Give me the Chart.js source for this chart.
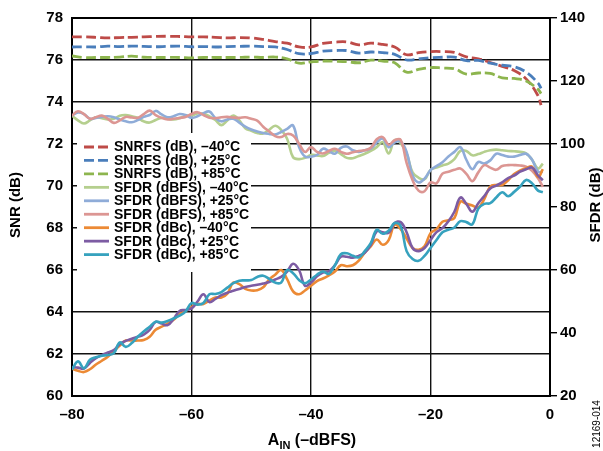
<!DOCTYPE html>
<html><head><meta charset="utf-8">
<script src="https://cdn.jsdelivr.net/npm/chart.js@4/dist/chart.umd.min.js"></script>
<style>html,body{margin:0;padding:0;background:#fff}#wrap{width:603px;height:451px}</style>
</head><body><div id="wrap"><canvas id="c" width="603" height="451"></canvas></div>
<script>
// ---- DATA ----
const X_SFDR = [-80,-79,-78,-77,-76,-75,-74,-73,-72,-71,-70,-69,-68,-67,-66,-65,-64,-63,-62,-61,-60,-59,-58,-57,-56,-55,-54,-53,-52,-51,-50,-49,-48,-47,-46,-45,-44,-43,-42,-41,-40,-39,-38,-37,-36,-35,-34,-33,-32,-31,-30,-29,-28,-27,-26,-25,-24,-23,-22,-21,-20,-19,-18,-17,-16,-15,-14,-13,-12,-11,-10,-9,-8,-7,-6,-5,-4,-3,-2,-1.2];
const X_SNR = [-80,-78,-76,-74,-72,-70,-68,-66,-64,-62,-60,-58,-56,-54,-52,-50,-48,-46,-44,-42,-40,-38,-36,-34,-32,-30,-28,-26,-24,-22,-20,-18,-16,-14,-12,-10,-8,-6,-4,-2,-1.5];

const snrfs_m40 = [77.10,77.10,77.08,77.05,77.07,77.08,77.10,77.12,77.13,77.12,
  77.10,77.10,77.08,77.05,77.07,77.05,76.98,76.88,76.80,76.62,
  76.62,76.79,76.85,76.86,76.72,76.80,76.74,76.62,76.25,76.35,
  76.40,76.40,76.36,76.15,76.06,75.88,75.70,75.50,75.10,74.30,73.85];
const snrfs_p25 = [76.62,76.63,76.62,76.66,76.64,76.66,76.65,76.63,76.65,76.66,
  76.63,76.64,76.62,76.64,76.65,76.66,76.64,76.62,76.50,76.30,
  76.31,76.42,76.45,76.45,76.33,76.38,76.35,76.27,76.00,76.05,
  76.11,76.13,76.14,75.97,75.98,75.85,75.75,75.68,75.42,74.90,74.65];
const snrfs_p85 = [76.19,76.12,76.12,76.12,76.14,76.18,76.13,76.12,76.12,76.12,
  76.10,76.12,76.12,76.12,76.12,76.14,76.12,76.14,76.06,75.85,
  75.91,75.95,75.94,75.92,75.87,75.99,75.95,75.87,75.42,75.55,
  75.64,75.62,75.58,75.33,75.38,75.36,75.15,75.12,75.00,74.60,74.40];

const sfdrFS_m40 = [109.0,107.5,106.5,107.5,108.5,108.2,107.8,108.0,109.0,109.2,
  108.8,108.3,107.2,106.8,107.6,108.3,108.0,107.8,108.2,108.9,
  109.0,109.7,109.6,108.8,107.6,106.0,107.5,109.0,107.5,105.0,
  104.2,103.5,103.3,104.5,105.8,104.5,101.7,95.8,95.2,95.6,
  96.5,96.4,96.2,97.2,97.8,96.8,95.6,95.5,96.2,96.9,
  97.8,99.0,100.6,97.0,101.2,100.3,97.0,91.0,89.3,88.8,
  91.8,92.5,93.2,93.8,95.2,97.8,97.8,96.4,96.8,97.5,
  98.0,98.2,98.0,97.8,97.7,97.5,97.0,95.0,92.2,93.8];
const sfdrFS_p25 = [109.0,110.0,109.5,108.0,108.3,108.6,108.8,108.5,107.8,107.2,
  106.9,107.6,108.6,109.2,110.5,109.4,108.5,108.8,109.5,109.2,
  108.3,108.8,109.8,110.3,108.2,107.2,107.8,108.0,106.8,105.5,
  104.6,104.0,103.5,103.2,103.0,103.8,104.8,105.9,99.0,96.0,
  96.0,96.5,98.5,97.8,96.9,98.8,99.2,98.0,97.5,98.0,
  98.5,100.5,101.7,99.0,100.5,100.8,97.5,90.0,87.8,89.0,
  91.7,93.0,94.2,96.0,97.5,99.0,95.0,92.0,94.3,93.8,
  94.8,96.9,96.5,96.0,96.0,96.5,96.9,95.0,91.2,91.2];
const sfdrFS_p85 = [109.0,110.4,109.5,108.0,108.5,109.0,108.0,106.7,107.5,108.6,
  108.4,108.3,109.5,110.6,109.2,108.3,107.8,108.0,108.3,108.6,
  109.5,110.1,109.2,108.3,108.2,108.5,108.6,108.4,108.3,108.5,
  108.0,107.4,105.5,104.0,102.5,102.2,103.2,102.7,100.1,97.5,
  99.0,97.5,97.0,97.8,98.5,97.5,96.9,97.4,97.8,98.0,
  98.8,101.5,102.2,99.8,101.2,101.3,94.0,88.5,85.2,85.0,
  87.8,87.5,90.6,91.2,91.8,92.2,90.5,88.2,91.0,93.3,
  92.5,91.8,93.0,93.3,93.3,93.2,92.8,91.5,89.1,86.4];

const sfdrC_m40 = [28.7,28.0,27.6,28.5,30.0,31.2,32.5,34.2,36.0,37.6,
  37.6,37.6,37.8,38.8,41.0,42.0,43.0,44.2,46.0,47.0,
  48.3,49.2,49.2,50.3,51.3,51.3,52.5,56.0,55.5,54.0,
  53.5,53.6,54.5,57.0,58.5,60.0,57.1,53.2,52.3,53.5,
  55.0,56.5,57.3,58.3,59.5,61.5,61.2,61.5,63.0,65.5,
  67.5,69.7,68.0,69.5,74.4,73.0,70.0,67.0,66.4,67.5,
  71.7,73.0,75.3,75.8,76.5,81.7,81.0,80.5,79.8,82.5,
  86.5,87.0,87.0,88.5,90.5,91.6,92.3,92.8,89.5,92.0];
const sfdrC_p25 = [29.2,29.0,28.7,30.5,32.0,33.0,33.8,34.6,36.5,37.5,
  38.2,38.8,39.5,41.0,43.5,43.0,42.5,44.5,47.0,47.3,
  47.8,50.0,52.3,49.8,50.8,52.0,52.8,53.4,54.0,54.6,
  55.0,55.3,55.7,56.2,57.0,57.8,59.5,62.0,60.0,55.0,
  56.0,58.0,59.2,59.6,61.5,64.2,64.2,63.9,64.5,65.5,
  68.0,72.3,72.0,71.8,74.9,75.2,72.0,67.0,66.0,67.0,
  69.5,72.0,73.3,75.5,78.5,83.0,81.0,78.5,81.2,83.5,
  85.9,86.8,87.8,89.2,90.0,91.2,92.0,92.5,90.0,88.5];
const sfdrC_p85 = [28.4,31.0,28.8,31.5,32.3,32.8,33.0,33.6,37.0,35.6,
  36.8,38.8,40.5,42.0,43.6,43.3,43.8,44.6,45.5,46.8,
  49.5,49.0,49.5,52.3,52.4,53.0,54.4,55.8,56.6,56.7,
  56.8,57.8,58.2,57.2,56.0,56.0,60.0,59.0,56.8,55.8,
  57.0,58.5,59.5,58.8,61.5,65.0,65.3,64.5,64.0,66.0,
  68.5,72.8,71.5,72.5,74.9,74.0,66.0,63.5,62.9,64.5,
  67.0,69.5,72.0,72.8,73.5,75.5,75.2,74.5,79.5,81.0,
  81.2,83.0,84.7,83.4,84.8,86.5,88.6,87.5,85.2,84.7];

const X_TICKS = [-80,-60,-40,-20,0];
const SNR_TICKS = [60,62,64,66,68,70,72,74,76,78];
const SFDR_TICKS = [20,40,60,80,100,120,140];
const LABELS = ['SNRFS (dB), \u201340\u00B0C','SNRFS (dB), +25\u00B0C','SNRFS (dB), +85\u00B0C',
  'SFDR (dBFS), \u201340\u00B0C','SFDR (dBFS), +25\u00B0C','SFDR (dBFS), +85\u00B0C',
  'SFDR (dBc), \u201340\u00B0C','SFDR (dBc), +25\u00B0C','SFDR (dBc), +85\u00B0C'];

// ---- STYLE ----
const FONT = '"Liberation Sans", Arial, sans-serif';
const COLORS = ['#BE4B48','#4A7EBB','#8DB54E','#B5CF8E','#8FACD8','#DC9693','#EC8A35','#7D5CA3','#36A2BE'];
const DASH = [10,4];

function pts(xs, ys){ return xs.map((x,i)=>({x:x, y:ys[i]})); }
function ds(i, xs, ys, axis, dashed){
  return {label: LABELS[i], data: pts(xs, ys), yAxisID: axis, borderColor: COLORS[i],
    borderWidth: dashed ? 2.8 : 2.6, borderDash: dashed ? DASH : [], pointRadius: 0,
    tension: 0.4, fill: false};
}
const datasets = [
  ds(8, X_SFDR, sfdrC_p85, 'y2', false),
  ds(7, X_SFDR, sfdrC_p25, 'y2', false),
  ds(6, X_SFDR, sfdrC_m40, 'y2', false),
  ds(5, X_SFDR, sfdrFS_p85, 'y2', false),
  ds(4, X_SFDR, sfdrFS_p25, 'y2', false),
  ds(3, X_SFDR, sfdrFS_m40, 'y2', false),
  ds(2, X_SNR, snrfs_p85, 'y', true),
  ds(1, X_SNR, snrfs_p25, 'y', true),
  ds(0, X_SNR, snrfs_m40, 'y', true)
];

const overlay = {
  id: 'overlay',
  beforeDatasetsDraw(chart){
    const ctx = chart.ctx, a = chart.chartArea;
    ctx.save();
    // plot border
    ctx.strokeStyle = '#000'; ctx.lineWidth = 2;
    ctx.strokeRect(a.left, a.top, a.right - a.left, a.bottom - a.top);
    // legend
    ctx.fillStyle = '#fff';
    ctx.fillRect(77, 133, 174, 139);
    ctx.font = 'bold 14px ' + FONT;
    ctx.textBaseline = 'middle'; ctx.textAlign = 'left';
    for (let i = 0; i < LABELS.length; i++){
      const y = 147 + i * 13.45;
      ctx.beginPath();
      ctx.strokeStyle = COLORS[i]; ctx.lineWidth = 2.8;
      ctx.setLineDash(i < 3 ? DASH : []);
      ctx.moveTo(84, y); ctx.lineTo(109, y); ctx.stroke();
      ctx.setLineDash([]);
      ctx.fillStyle = '#000';
      ctx.fillText(LABELS[i], 114, y + 0.5);
    }
    ctx.restore();
  },
  afterDraw(chart){
    const ctx = chart.ctx;
    ctx.save();
    ctx.fillStyle = '#000';
    ctx.font = 'bold 15px ' + FONT;
    ctx.textAlign = 'center'; ctx.textBaseline = 'middle';
    ctx.save(); ctx.translate(16, 205); ctx.rotate(-Math.PI/2); ctx.fillText('SNR (dB)', 0, 0); ctx.restore();
    ctx.save(); ctx.translate(596, 205); ctx.rotate(-Math.PI/2); ctx.fillText('SFDR (dB)', 0, 0); ctx.restore();
    ctx.font = '10px ' + FONT;
    ctx.save(); ctx.translate(597, 424); ctx.rotate(-Math.PI/2); ctx.fillText('12169-014', 0, 0); ctx.restore();
    // x title with subscript
    ctx.textAlign = 'left'; ctx.textBaseline = 'alphabetic';
    const fBig = 'bold 16px ' + FONT, fSub = 'bold 11px ' + FONT;
    ctx.font = fBig; const wA = ctx.measureText('A').width;
    ctx.font = fSub; const wIN = ctx.measureText('IN').width;
    ctx.font = fBig; const wR = ctx.measureText(' (\u2013dBFS)').width;
    let x = 312 - (wA + wIN + wR) / 2;
    ctx.fillText('A', x, 445); x += wA;
    ctx.font = fSub; ctx.fillText('IN', x, 449); x += wIN;
    ctx.font = fBig; ctx.fillText(' (\u2013dBFS)', x, 445);
    ctx.restore();
  }
};

const tickFont = {family: FONT, size: 15, weight: 'bold'};
new Chart(document.getElementById('c'), {
  type: 'line',
  data: {datasets},
  options: {
    responsive: false, animation: false, devicePixelRatio: 1,
    layout: {padding: {top: 15, left: 0, right: 0, bottom: 0}},
    plugins: {legend: {display: false}, tooltip: {enabled: false}},
    scales: {
      x: {type: 'linear', min: -80, max: 0,
        afterBuildTicks: s => { s.ticks = X_TICKS.map(v => ({value: v})); },
        afterFit: s => { s.height = 55; },
        grid: {color: '#111', lineWidth: 1.4, drawTicks: false},
        border: {display: false},
        ticks: {color: '#000', font: tickFont, padding: 10, maxRotation: 0,
          callback: v => String(v).replace('-', '\u2013')}},
      y: {type: 'linear', position: 'left', min: 60, max: 78,
        afterBuildTicks: s => { s.ticks = SNR_TICKS.map(v => ({value: v})); },
        afterFit: s => { s.width = 72; },
        grid: {color: '#111', lineWidth: 1.4, drawTicks: false},
        border: {display: false},
        ticks: {color: '#000', font: tickFont, padding: 9}},
      y2: {type: 'linear', position: 'right', min: 20, max: 140,
        afterBuildTicks: s => { s.ticks = SFDR_TICKS.map(v => ({value: v})); },
        afterFit: s => { s.width = 53; },
        grid: {drawOnChartArea: false, drawTicks: true, tickLength: 7, color: '#000', lineWidth: 1.4},
        border: {display: false},
        ticks: {color: '#000', font: tickFont, padding: 3}}
    }
  },
  plugins: [overlay]
});
</script></body></html>
